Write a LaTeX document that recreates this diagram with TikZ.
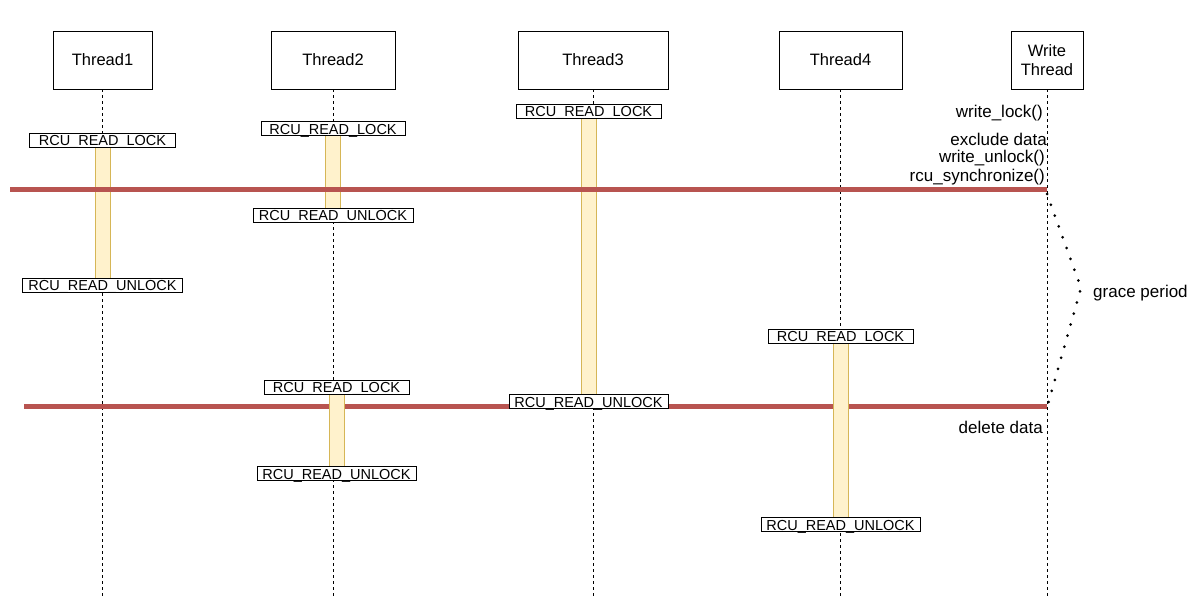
\documentclass[tikz,border=0pt]{standalone}
\usepackage{fontspec}
\setmainfont{Liberation Sans}
\usetikzlibrary{calc}
\definecolor{barfill}{HTML}{FFF2CC}
\definecolor{barline}{HTML}{D6B656}
\definecolor{gline}{HTML}{B85450}
\begin{document}
\begin{tikzpicture}[x=1pt, y=-1pt,
    thread/.style={draw, thick, minimum height=58pt, inner sep=0pt, align=center, font=\fontsize{16.5}{19}\selectfont},
    life/.style={thick, dash pattern=on 3pt off 3pt},
    rcu/.style={draw, thick, fill=white, inner xsep=0pt, inner ysep=1pt, text height=12pt, text depth=0pt, font=\fontsize{14.5}{16}\selectfont},
    crit/.style={fill=barfill, draw=barline, thick},
    grace/.style={gline, line width=5pt},
    wlabel/.style={anchor=east, inner sep=0pt, font=\fontsize{17}{20}\selectfont}]
  \useasboundingbox (0,0) rectangle (1197,609);
  % thread heads
  \node[thread, minimum width=99pt] (t1) at (102.5,60) {Thread1};
  \node[thread, minimum width=124pt] (t2) at (333,60) {Thread2};
  \node[thread, minimum width=150pt] (t3) at (593,60) {Thread3};
  \node[thread, minimum width=123pt] (t4) at (840.5,60) {Thread4};
  \node[thread, minimum width=72pt] (tw) at (1047,60) {Write\\Thread};
  % lifelines
  \foreach \t in {t1,t2,t3,t4,tw} {
    \coordinate (\t-end) at (\t.south |- 0,597);
    \draw[life] (\t.south) -- (\t-end);
  }
  % grace period boundaries
  \coordinate (g1a) at (10,190);  \coordinate (g1b) at (tw.south |- 0,190);
  \coordinate (g2a) at (24,407);  \coordinate (g2b) at (tw.south |- 0,407);
  \draw[grace] (g2a) -- (g2b);
  % read side critical sections
  \foreach \n/\t/\dx/\a/\b/\wa/\wb in {a/t1/0/140/285/146/160, b/t2/0/128.5/215/144/160, c/t3/-4.5/111/401.5/145/159,
                                      d/t2/3.5/387/473.5/145/159, e/t4/0/336/524/145/159} {
    \coordinate (\n-top) at ($(\t.south |- 0,\a)+(\dx,0)$);
    \coordinate (\n-bot) at ($(\t.south |- 0,\b)+(\dx,0)$);
    \fill[crit] ($(\n-top)+(-7.5,7)$) rectangle ($(\n-bot)+(7.5,-7)$);
    \node[rcu, minimum width=\wa pt] (\n-lock) at (\n-top) {RCU\_READ\_LOCK};
    \node[rcu, minimum width=\wb pt] (\n-unlock) at (\n-bot) {RCU\_READ\_UNLOCK};
  }
  \draw[grace] (g1a) -- (g1b);
  % writer side
  \node[wlabel] (wl) at (1043,113) {write\_lock()};
  \node[wlabel] (wx) at (1047,139) {exclude data};
  \node[wlabel] (wu) at (1045,158) {write\_unlock()};
  \node[wlabel] (ws) at (1045,177) {rcu\_synchronize()};
  \node[wlabel] (wd) at (1043,427) {delete data};
  \coordinate (gp) at (1081,288);
  \draw[line width=3pt, line cap=round, dash pattern=on 0pt off 11.5pt]
    ($(g1b)+(0,4)$) -- (gp) -- ($(g2b)+(1,-3)$);
  \node[anchor=west, inner sep=0pt, font=\fontsize{17}{20}\selectfont] (gpl) at (1093,293) {grace period};
\end{tikzpicture}
\end{document}
